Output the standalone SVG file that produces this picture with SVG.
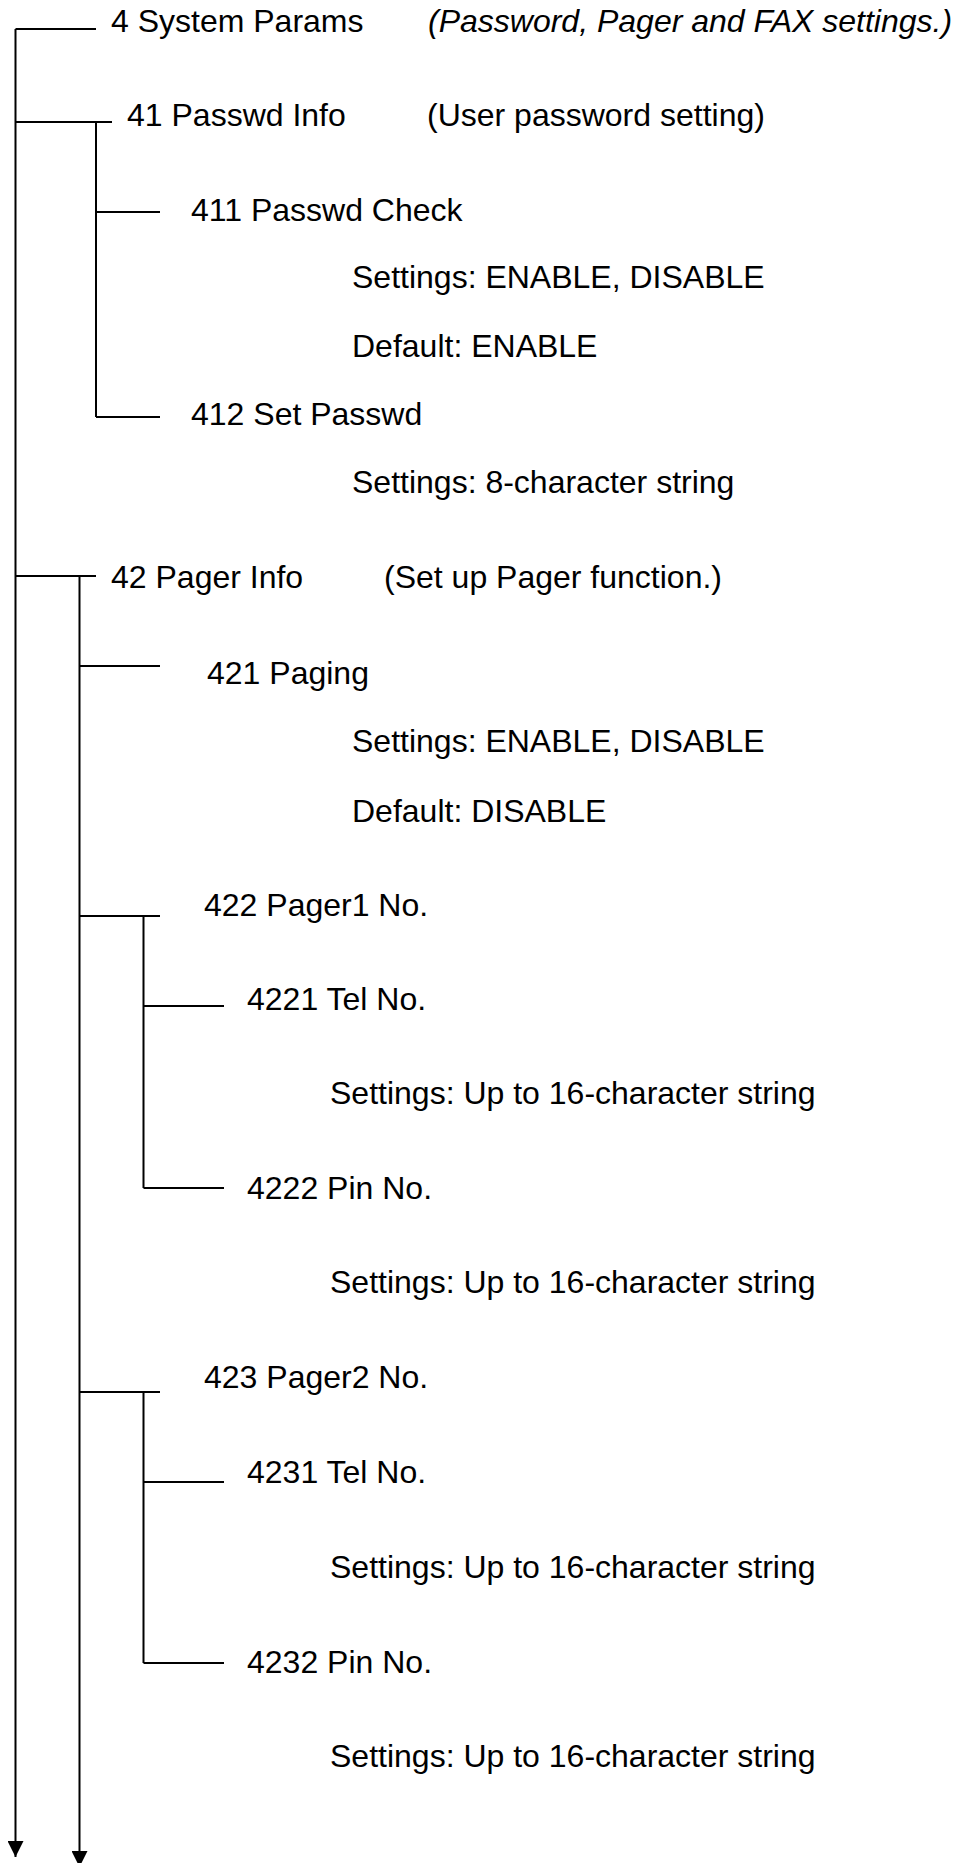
<svg xmlns="http://www.w3.org/2000/svg" width="958" height="1863" viewBox="0 0 958 1863">
<style>
text { font-family: "Liberation Sans", Arial, sans-serif; font-size: 32px; fill: #000; }
.it { font-style: italic; }
.ln { stroke: #000; stroke-width: 2; fill: none; }
</style>
<defs>
<marker id="arr" markerUnits="userSpaceOnUse" markerWidth="16" markerHeight="16" refX="16" refY="8" orient="auto">
<path d="M0,0 L16,8 L0,16 z" fill="#000"/>
</marker>
</defs>
<rect width="958" height="1863" fill="#fff"/>
<g id="connectors">
<line class="ln" x1="15.5" y1="29" x2="15.5" y2="1857" marker-end="url(#arr)"/>
<line class="ln" x1="15.5" y1="29" x2="96" y2="29"/>
<line class="ln" x1="15.5" y1="122" x2="112" y2="122"/>
<line class="ln" x1="96" y1="122" x2="96" y2="417"/>
<line class="ln" x1="96" y1="212" x2="160" y2="212"/>
<line class="ln" x1="96" y1="417" x2="160" y2="417"/>
<line class="ln" x1="15.5" y1="576" x2="96" y2="576"/>
<line class="ln" x1="79.5" y1="576" x2="79.5" y2="1867" marker-end="url(#arr)"/>
<line class="ln" x1="79.5" y1="666" x2="160" y2="666"/>
<line class="ln" x1="79.5" y1="916" x2="160" y2="916"/>
<line class="ln" x1="143.5" y1="916" x2="143.5" y2="1188"/>
<line class="ln" x1="143.5" y1="1006" x2="224" y2="1006"/>
<line class="ln" x1="143.5" y1="1188" x2="224" y2="1188"/>
<line class="ln" x1="79.5" y1="1392" x2="160" y2="1392"/>
<line class="ln" x1="143.5" y1="1392" x2="143.5" y2="1663"/>
<line class="ln" x1="143.5" y1="1482" x2="224" y2="1482"/>
<line class="ln" x1="143.5" y1="1663" x2="224" y2="1663"/>
</g>
<g id="n4"><text x="111" y="32">4 System Params</text><text class="it" x="428" y="32">(Password, Pager and FAX settings.)</text></g>
<g id="n41"><text x="127" y="126">41 Passwd Info</text><text x="427" y="126">(User password setting)</text></g>
<g id="n411"><text x="191" y="221">411 Passwd Check</text><text x="352" y="288">Settings: ENABLE, DISABLE</text><text x="352" y="357">Default: ENABLE</text></g>
<g id="n412"><text x="191" y="425">412 Set Passwd</text><text x="352" y="493">Settings: 8-character string</text></g>
<g id="n42"><text x="111" y="588">42 Pager Info</text><text x="384" y="588">(Set up Pager function.)</text></g>
<g id="n421"><text x="207" y="684">421 Paging</text><text x="352" y="752">Settings: ENABLE, DISABLE</text><text x="352" y="822">Default: DISABLE</text></g>
<g id="n422"><text x="204" y="916">422 Pager1 No.</text></g>
<g id="n4221"><text x="247" y="1010">4221 Tel No.</text><text x="330" y="1104">Settings: Up to 16-character string</text></g>
<g id="n4222"><text x="247" y="1199">4222 Pin No.</text><text x="330" y="1293">Settings: Up to 16-character string</text></g>
<g id="n423"><text x="204" y="1388">423 Pager2 No.</text></g>
<g id="n4231"><text x="247" y="1483">4231 Tel No.</text><text x="330" y="1578">Settings: Up to 16-character string</text></g>
<g id="n4232"><text x="247" y="1673">4232 Pin No.</text><text x="330" y="1767">Settings: Up to 16-character string</text></g>
</svg>
